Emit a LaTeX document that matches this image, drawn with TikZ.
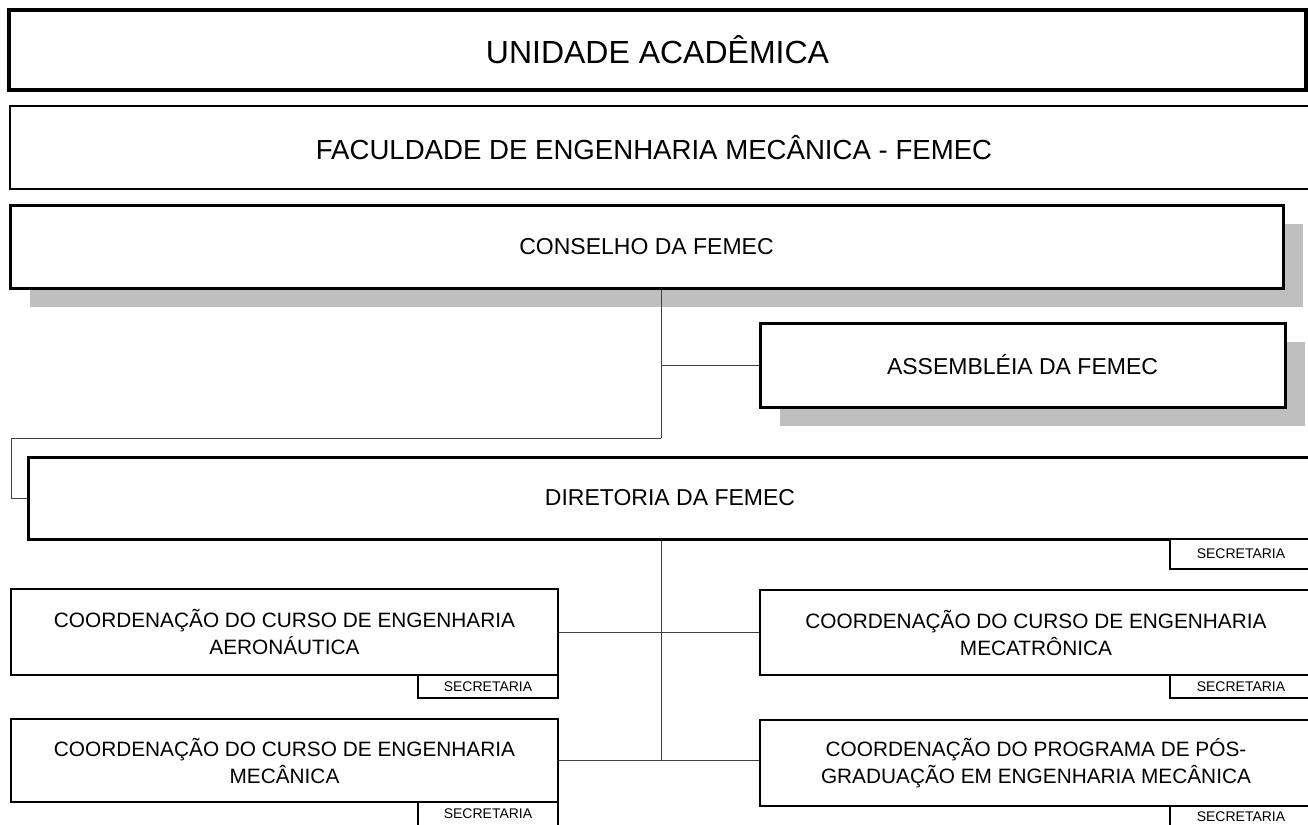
\documentclass[tikz,border=0pt]{standalone}
\usepackage{fontspec}
\setmainfont{Liberation Sans}
\usepackage{tikz}
\usetikzlibrary{shadows}

\tikzset{
  orgbox/.style={draw=black, fill=white, rectangle, inner sep=0pt, align=center},
  shadowed/.style={drop shadow={shadow xshift=10pt, shadow yshift=-9.5pt, fill=black!25, opacity=1}},
  secbox/.style={orgbox, line width=0.9pt, minimum width=70pt, minimum height=11.5pt,
    font=\fontsize{7}{8}\selectfont},
  coordbox/.style={orgbox, line width=1pt, minimum width=273.5pt, minimum height=43pt,
    font=\fontsize{10.4}{13.5}\selectfont},
  wire/.style={draw=black!75, line width=0.5pt}
}

\begin{document}
\begin{tikzpicture}[x=0.5pt,y=-0.5pt]
  \useasboundingbox (0,0) rectangle (1308,825);
  \clip (0,0) rectangle (1308,825);

  % upper levels
  \node[orgbox, line width=2.2pt, minimum width=648.5pt, minimum height=40pt,
    font=\fontsize{16}{19}\selectfont] (unidade) at (657.5,50) {UNIDADE ACADÊMICA};
  \node[orgbox, line width=1pt, minimum width=651pt, minimum height=41.5pt,
    font=\fontsize{13.8}{16}\selectfont] (faculdade) at (661,147.5)
    {\hspace*{-7pt}FACULDADE DE ENGENHARIA MECÂNICA - FEMEC};
  \node[orgbox, shadowed, line width=1.5pt, minimum width=636.5pt, minimum height=41.5pt,
    font=\fontsize{11.5}{14}\selectfont] (conselho) at (646.5,246.5) {CONSELHO DA FEMEC};
  \node[orgbox, shadowed, line width=1.5pt, minimum width=262.5pt, minimum height=42pt,
    font=\fontsize{11.5}{14}\selectfont] (assembleia) at (1022.5,365) {ASSEMBLÉIA DA FEMEC};
  \node[orgbox, line width=1.5pt, minimum width=642pt, minimum height=41pt,
    font=\fontsize{11.5}{14}\selectfont] (diretoria) at (670,498) {DIRETORIA DA FEMEC};
  \node[secbox, line width=1.2pt, minimum width=71pt, minimum height=15pt] (dirsec) at (1241,554) {SECRETARIA};

  % coordinations
  \node[coordbox] (aero) at (284.5,632) {COORDENAÇÃO DO CURSO DE ENGENHARIA\\AERONÁUTICA};
  \node[secbox] (aerosec) at (488,686.5) {SECRETARIA};
  \node[coordbox, minimum height=41.5pt] (mecanica) at (284.5,760.5) {COORDENAÇÃO DO CURSO DE ENGENHARIA\\MECÂNICA};
  \node[secbox, minimum height=12pt] (mecsec) at (488,814) {SECRETARIA};
  \node[coordbox, minimum width=276pt, minimum height=42.5pt] (mecatronica) at (1036,632.5)
    {COORDENAÇÃO DO CURSO DE ENGENHARIA\\MECATRÔNICA};
  \node[secbox, minimum width=71pt] (mecatrsec) at (1241,686.5) {SECRETARIA};
  \node[coordbox, minimum width=276pt] (pos) at (1036,763)
    {COORDENAÇÃO DO PROGRAMA DE PÓS-\\GRADUAÇÃO EM ENGENHARIA MECÂNICA};
  \node[secbox, minimum width=71pt, minimum height=11pt] (possec) at (1241,817) {SECRETARIA};

  % connectors
  \coordinate (axis) at (661,438);
  \coordinate (loop) at (11,438);
  \draw[wire] (conselho.south -| axis) -- (axis);
  \draw[wire] (axis |- assembleia.west) -- (assembleia.west);
  \draw[wire] (axis) -- (loop) |- (diretoria.west);
  \draw[wire] (diretoria.south -| axis) -- (axis |- mecanica.east);
  \draw[wire] (aero.east) -- (aero.east -| mecatronica.west);
  \draw[wire] (mecanica.east) -- (mecanica.east -| pos.west);
\end{tikzpicture}
\end{document}
